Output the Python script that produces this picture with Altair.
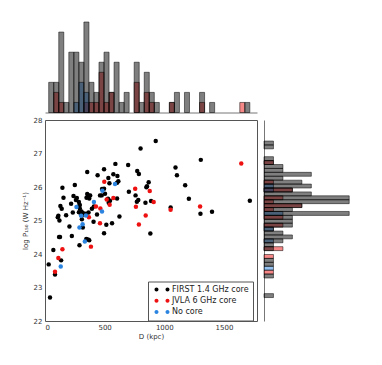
import altair as alt
import pandas as pd

# ---------------- scatter data ----------------
first_D = [42, 31, 84, 70, 118, 126, 135, 107, 121, 112, 129, 140, 146, 155, 177, 205, 219, 225, 233, 239,
           250, 259, 267, 281, 284, 284, 292, 292, 289, 301, 309, 306, 317, 320, 329, 343, 354, 348, 354, 346,
           360, 371, 365, 371, 365, 379, 393, 407, 410, 436, 441, 461, 475, 478, 495, 495, 495, 503, 514, 531,
           540, 528, 545, 534, 562, 573, 590, 604, 615, 607, 604, 624, 697, 703, 773, 787, 759, 782, 770, 801,
           928, 1306, 1094, 1106, 1175, 869, 855, 850, 842, 889, 1053, 1206, 1303, 1400, 1717, 883]
first_logP = [22.70, 23.69, 23.39, 24.12, 24.51, 24.51, 23.81, 25.10, 25.00, 25.14, 25.43, 25.35, 25.98, 25.68, 25.16, 24.82, 25.50, 24.54, 25.24, 25.73,
              26.06, 25.61, 25.67, 25.42, 25.25, 25.55, 25.46, 25.36, 24.26, 25.17, 25.04, 25.27, 24.79, 25.22, 25.17, 25.20, 26.45, 25.68, 25.79, 24.45,
              24.43, 24.41, 25.24, 25.66, 25.75, 25.75, 25.35, 24.96, 25.42, 25.18, 26.35, 25.75, 25.75, 25.94, 26.53, 25.95, 24.62, 25.80, 24.87, 26.27,
              26.11, 25.65, 25.59, 25.53, 24.92, 26.38, 26.69, 26.13, 26.17, 26.33, 25.66, 25.12, 26.66, 25.86, 26.48, 26.39, 25.75, 25.61, 25.56, 27.15,
              27.37, 26.81, 26.58, 26.35, 26.05, 26.14, 26.02, 25.99, 25.53, 25.58, 25.39, 25.65, 25.20, 25.26, 25.59, 24.61]
jvla_D = [84, 112, 146, 368, 385, 427, 464, 461, 497, 517, 542, 573, 756, 762, 787, 878, 844, 911, 1053, 1300, 1645]
jvla_logP = [23.47, 23.88, 24.14, 25.10, 24.22, 25.42, 25.36, 24.92, 26.16, 25.63, 25.47, 25.67, 25.95, 25.41, 24.88, 25.88, 25.15, 25.55, 25.32, 25.42, 26.70]
nocore_D = [132, 264, 289, 315, 303, 343, 334, 410, 478, 481, 587]
nocore_logP = [23.63, 25.40, 24.79, 24.89, 25.14, 25.15, 24.37, 25.55, 25.27, 25.89, 26.09]

series_names = ["FIRST 1.4 GHz core", "JVLA 6 GHz core", "No core"]
series_colors = ["#000000", "#ee1111", "#2a84e0"]

# ---------------- top histogram (D) ----------------
d_bin_start = 31.0
d_bin_width = 42.15
top_first = [3, 3, 8, 1, 6, 6, 5, 9, 3, 2, 5, 6, 2, 5, 1, 2, 0, 5, 1, 4,
             2, 1, 0, 0, 1, 2, 0, 2, 0, 0, 2, 0, 1, 0, 0, 0, 0, 0, 0, 1]
top_jvla = [0, 2, 1, 0, 0, 0, 0, 1, 1, 1, 4, 1, 2, 0, 0, 0, 0, 3, 0, 2,
            1, 0, 0, 0, 1, 0, 0, 0, 0, 0, 1, 0, 0, 0, 0, 0, 0, 0, 1, 0]
top_nocore = [0, 0, 0, 0, 0, 1, 3, 2, 0, 0, 0, 0, 0, 0, 0, 0, 0, 0, 0, 0,
              0, 0, 0, 0, 0, 0, 0, 0, 0, 0, 0, 0, 0, 0, 0, 0, 0, 0, 0, 0]

# ---------------- right histogram (log P) ----------------
p_bin_start = 22.70
p_bin_width = 0.1168
right_first = [1, 0, 0, 0, 0, 1, 0, 0, 1, 1, 0, 0, 1, 1, 2, 3, 2, 1, 3, 3,
               3, 9, 3, 4, 9, 9, 5, 3, 5, 4, 2, 5, 2, 2, 1, 1, 0, 0, 1, 1]
right_jvla = [0, 0, 0, 0, 0, 0, 1, 0, 0, 0, 1, 0, 2, 0, 0, 0, 0, 0, 2, 0,
              2, 0, 1, 4, 1, 2, 0, 3, 0, 1, 0, 0, 0, 0, 1, 0, 0, 0, 0, 0]
right_nocore = [0, 0, 0, 0, 0, 0, 0, 1, 0, 0, 0, 0, 0, 0, 1, 0, 0, 1, 0, 0,
                0, 2, 0, 0, 0, 0, 0, 1, 1, 0, 0, 0, 0, 0, 0, 0, 0, 0, 0, 0]

X_DOMAIN = [0, 1777]
Y_DOMAIN = [22, 28]
FONT = "DejaVu Sans"
TXT = "#333333"

# ---------------- build tables ----------------
rows = []
for name, ds, ps in zip(series_names, [first_D, jvla_D, nocore_D], [first_logP, jvla_logP, nocore_logP]):
    for d, p in zip(ds, ps):
        rows.append({"series": name, "D": d, "logP": p, "ord": series_names.index(name)})
scatter_df = pd.DataFrame(rows)


def hist_df(counts, start, width):
    out = []
    for i, c in enumerate(counts):
        if c > 0:
            out.append({"lo": start + i * width, "hi": start + (i + 1) * width, "count": c, "base": 0})
    return pd.DataFrame(out)


def top_layer(counts, color):
    return alt.Chart(hist_df(counts, d_bin_start, d_bin_width)).mark_rect(
        fill=color, fillOpacity=0.5, stroke="#000000", strokeOpacity=0.5, strokeWidth=1
    ).encode(
        x=alt.X("lo:Q", scale=alt.Scale(domain=X_DOMAIN, nice=False, zero=False),
                axis=alt.Axis(labels=False, ticks=False, title=None, grid=False, domain=True,
                              domainColor="#777777", domainWidth=1)),
        x2="hi:Q",
        y=alt.Y("count:Q", scale=alt.Scale(domain=[0, 9.15], nice=False), axis=None),
        y2="base:Q",
    )


def right_layer(counts, color):
    return alt.Chart(hist_df(counts, p_bin_start, p_bin_width)).mark_rect(
        fill=color, fillOpacity=0.5, stroke="#000000", strokeOpacity=0.5, strokeWidth=1
    ).encode(
        y=alt.Y("lo:Q", scale=alt.Scale(domain=Y_DOMAIN, nice=False, zero=False),
                axis=alt.Axis(labels=False, ticks=False, title=None, grid=False, domain=True,
                              domainColor="#777777", domainWidth=1)),
        y2="hi:Q",
        x=alt.X("count:Q", scale=alt.Scale(domain=[0, 9.4], nice=False), axis=None),
        x2="base:Q",
    )


top = alt.layer(
    top_layer(top_jvla, series_colors[1]),
    top_layer(top_nocore, series_colors[2]),
    top_layer(top_first, series_colors[0]),
).properties(width=212, height=92)

right = alt.layer(
    right_layer(right_jvla, series_colors[1]),
    right_layer(right_nocore, series_colors[2]),
    right_layer(right_first, series_colors[0]),
).properties(width=89, height=201)

two_dots = ("M -3.75 0 A 1 1 0 1 1 -1.75 0 A 1 1 0 1 1 -3.75 0 Z "
            "M 1.75 0 A 1 1 0 1 1 3.75 0 A 1 1 0 1 1 1.75 0 Z")

main = alt.Chart(scatter_df).mark_circle(size=20, opacity=1).encode(
    x=alt.X("D:Q", scale=alt.Scale(domain=X_DOMAIN, nice=False, zero=False),
            axis=alt.Axis(values=[0, 500, 1000, 1500], format="d", title="D (kpc)", grid=False, ticks=False,
                          labelPadding=2, titlePadding=2, domain=False)),
    y=alt.Y("logP:Q", scale=alt.Scale(domain=Y_DOMAIN, nice=False, zero=False),
            axis=alt.Axis(values=[22, 23, 24, 25, 26, 27, 28], format="d", title="log P₁₅₀ (W Hz⁻¹)", grid=False,
                          ticks=False, labelPadding=3, titlePadding=5, domain=False)),
    color=alt.Color("series:N", scale=alt.Scale(domain=series_names, range=series_colors),
                    legend=alt.Legend(title=None, orient="none", legendX=103, legendY=261,
                                      symbolType=two_dots, symbolSize=16, symbolStrokeWidth=0,
                                      symbolOffset=6, labelOffset=6,
                                      labelFontSize=8, labelFont=FONT, labelColor="#222222",
                                      strokeColor="#555555", fillColor="#ffffff", padding=4,
                                      rowPadding=3.3)),
    order=alt.Order("ord:Q"),
).properties(width=212, height=201, view=alt.ViewBackground(stroke="#555555", strokeWidth=1))

row = alt.hconcat(main, right, spacing=7, bounds="flush")
chart = alt.vconcat(top, row, spacing=7.5, bounds="flush").properties(
    padding={"left": 12, "top": 12.5, "right": 5, "bottom": 5}
).configure_view(stroke=None).configure_axis(
    labelFont=FONT, titleFont=FONT, labelFontSize=7, titleFontSize=7,
    labelColor=TXT, titleColor=TXT, titleFontWeight="normal"
)

chart.save("out.html", embed_options={"renderer": "svg", "actions": False})
